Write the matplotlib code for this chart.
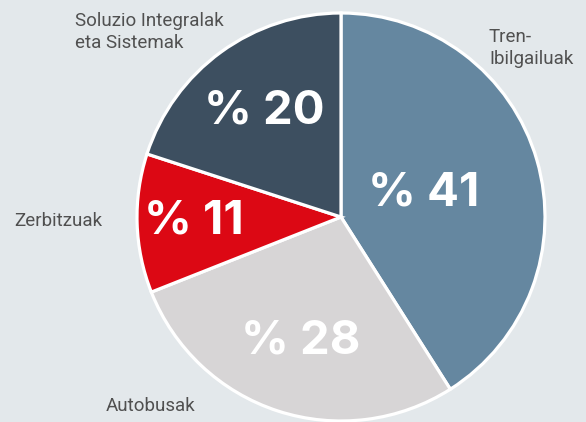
import numpy as np
import matplotlib.pyplot as plt

# Datuak
categories = ['Tren-\nIbilgailuak', 'Autobusak', 'Zerbitzuak', 'Soluzio Integralak\neta Sistemak']
values = [41, 28, 11, 20]
pct_labels = ['% 41', '% 28', '% 11', '% 20']

colors = ['#6587a0', '#d7d5d6', '#dc0814', '#3d4f60']
bg = '#e3e8eb'

# Etiketen kokapena (datu-koordenatuetan)
pct_radius = [0.42, 0.64, 0.72, 0.64]
cat_pos = [(0.725, 0.828), (-1.152, -0.926), (-1.603, -0.02), (-1.304, 0.907)]

plt.rcParams['font.family'] = ['Roboto', 'DejaVu Sans']

W, H = 586, 422
fig = plt.figure(figsize=(W / 100, H / 100), dpi=100, facecolor=bg)
cx, cy, r = 341, 205, 204
ax = fig.add_axes([(cx - r) / W, (cy - r) / H, 2 * r / W, 2 * r / H])
ax.set_facecolor(bg)

wedges, _ = ax.pie(values, colors=colors, startangle=90, counterclock=False,
                   radius=1, wedgeprops=dict(edgecolor='white', linewidth=2.3))

for w, lab, rr in zip(wedges, pct_labels, pct_radius):
    ang = np.deg2rad((w.theta1 + w.theta2) / 2)
    ax.text(rr * np.cos(ang), rr * np.sin(ang), lab, color='white',
            fontsize=34, fontweight='bold', family=['Inter', 'Roboto', 'DejaVu Sans'],
            ha='center', va='center')

for lab, (x, y) in zip(categories, cat_pos):
    ax.text(x, y, lab, color='#505050', fontsize=13.5, fontweight='normal',
            ha='left', va='center', linespacing=1.3, clip_on=False)

ax.set_xlim(-1, 1)
ax.set_ylim(-1, 1)
ax.set_aspect('equal')
ax.axis('off')

fig.savefig('out.png', dpi=100, facecolor=bg)
